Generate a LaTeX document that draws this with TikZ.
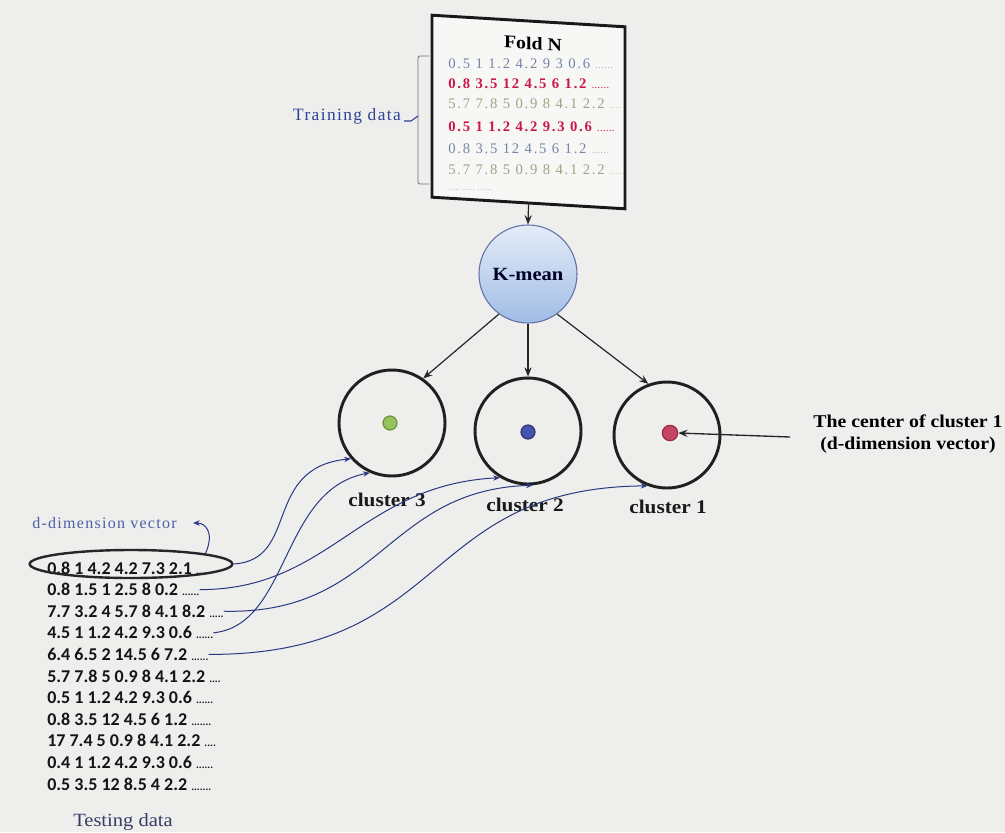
\documentclass[tikz,border=0pt]{standalone}
\usepackage{fontspec}
\setmainfont{Liberation Serif}
\newfontfamily\wideserif[FakeStretch=1.1]{Liberation Serif}
\newfontfamily\spacedserif[LetterSpace=8]{Liberation Serif}
\newfontfamily\rowserif[LetterSpace=12]{Liberation Serif}
\newfontfamily\calib{Carlito}
\usetikzlibrary{arrows.meta,shapes.geometric}

\definecolor{paper}{RGB}{238,239,236}
\definecolor{curveblue}{RGB}{40,56,130}
\definecolor{foldred}{RGB}{200,23,79}
\definecolor{foldblue}{RGB}{118,132,168}
\definecolor{foldolive}{RGB}{160,162,130}
\definecolor{kmtop}{RGB}{228,237,249}
\definecolor{kmbot}{RGB}{160,188,228}
\definecolor{kmedge}{RGB}{100,110,170}
\definecolor{labelblue}{RGB}{45,65,150}
\definecolor{testtitle}{RGB}{55,60,100}
\definecolor{dotgreen}{RGB}{150,195,95}
\definecolor{dotgreenedge}{RGB}{105,150,60}
\definecolor{dotblue}{RGB}{70,85,170}
\definecolor{dotblueedge}{RGB}{45,55,125}
\definecolor{dotred}{RGB}{195,70,100}
\definecolor{dotrededge}{RGB}{160,40,70}

\newcommand\fdots[1]{{\fontsize{6}{6}\selectfont #1}}
\newcommand\tdots[1]{{\fontsize{8}{8}\selectfont #1}}

\begin{document}
\begin{tikzpicture}[x=0.75pt,y=-0.75pt,
  every node/.style={inner sep=0pt},
  cluster/.style={circle, draw=black!88, line width=2.2pt, minimum size=79.5pt},
  centre/.style={circle, line width=0.9pt, minimum size=10.5pt},
  clabel/.style={font=\wideserif\bfseries\fontsize{14.5}{17}\selectfont, text=black!90},
  karrow/.style={-{Stealth[length=7pt,width=5.5pt,inset=2.5pt]}, line width=0.9pt, draw=black!85},
  vecarrow/.style={-{Stealth[length=5pt,width=4pt,inset=1.5pt]}, line width=0.75pt, draw=curveblue},
  testrow/.style={anchor=west, font=\calib\bfseries\fontsize{13.5}{16}\selectfont, text=black!92},
  foldrow/.style={anchor=west, font=\rowserif\fontsize{11}{13}\selectfont},
  foldbold/.style={foldrow, text=foldred, font=\rowserif\bfseries\fontsize{11}{13}\selectfont},
]
\useasboundingbox (0,0) rectangle (1005,832);
\fill[paper] (0,0) rectangle (1005,832);

% ---- Fold N: training data block (slightly sheared) ----
\begin{scope}[shift={(528.5,112)}, cm={1,-0.06,0,1,(0,0)}]
  \node[transform shape, draw=black!90, line width=2.2pt, fill=white!55!paper,
        minimum width=144.75pt, minimum height=136.5pt] (fold) at (0,0) {};
  \node[transform shape, font=\wideserif\bfseries\fontsize{13.5}{16}\selectfont] (foldtitle) at (4.5,-69) {Fold N};
  \node[foldrow, text=foldblue] (f1) at (-80.5,-43.5) {0.5 1 1.2 4.2 9 3 0.6 \fdots{......}};
  \node[foldbold] (f2) at (-80.5,-23.5) {0.8 3.5 12 4.5 6 1.2 \fdots{......}};
  \node[foldrow, text=foldolive] (f3) at (-80.5,-3.5) {5.7 7.8 5 0.9 8 4.1 2.2 \fdots{....}};
  \node[foldbold] (f4) at (-80.5,19.5) {0.5 1 1.2 4.2 9.3 0.6 \fdots{......}};
  \node[foldrow, text=foldblue] (f5) at (-80.5,41.5) {0.8 3.5 12 4.5 6 1.2 \fdots{......}};
  \node[foldrow, text=foldolive] (f6) at (-80.5,62.5) {5.7 7.8 5 0.9 8 4.1 2.2 \fdots{.....}};
  \node[foldrow, text=foldblue, font=\rowserif\fontsize{5}{5}\selectfont] (f7) at (-80.5,83) {..... ..... ......};
\end{scope}

% bracket and label of the training rows
\draw[black!55, line width=0.6pt, rounded corners=1.5pt] (429,56) -- (418,56) -- (418,184) -- (429,184);
\node[anchor=east, font=\spacedserif\fontsize{13}{15}\selectfont, text=labelblue] (trainlbl) at (401,116) {Training data};
\draw[labelblue, line width=0.8pt] (trainlbl.east) ++(3,5) -- ++(7,0) -- (418,116);

% ---- K-mean ----
\node[circle, draw=kmedge, line width=0.8pt, top color=kmtop, bottom color=kmbot,
      minimum size=73.5pt, text=black!85!blue, font=\wideserif\bfseries\fontsize{14}{16}\selectfont] (km) at (528,274) {K-mean};
\draw[karrow] (fold.south) -- (km.north);

% ---- clusters ----
\node[cluster] (c3) at (392,423) {};
\node[cluster] (c2) at (528,431) {};
\node[cluster] (c1) at (667,435) {};
\node[centre, fill=dotgreen, draw=dotgreenedge] (d3) at (390,423) {};
\node[centre, fill=dotblue, draw=dotblueedge] (d2) at (528,432) {};
\node[centre, fill=dotred, draw=dotrededge, minimum size=11.5pt] (d1) at (670,433) {};
\node[clabel] (l3) at (387,500) {cluster 3};
\node[clabel] (l2) at (525,505) {cluster 2};
\node[clabel] (l1) at (668,507) {cluster 1};

\draw[karrow] (km.234) -- (c3.55);
\draw[karrow] (km.270) -- (c2.90);
\draw[karrow] (km.306) -- (c1.110);

% ---- centre of cluster 1 ----
\node[font=\wideserif\bfseries\fontsize{13.5}{16.5}\selectfont, align=center] (centrelbl) at (908,434) {The center of cluster 1\\(d-dimension vector)};
\coordinate (centrefrom) at (790,437);
\draw[karrow, line width=1pt] (centrefrom) -- (d1.east);

% ---- testing data ----
\node[anchor=west, font=\spacedserif\fontsize{12}{14}\selectfont, text=labelblue!85] (dlabel) at (32,523) {d-dimension vector};
\coordinate (dtip) at (193,523);
\foreach \i/\nums/\dd in {
   1/{0.8 1 4.2 4.2 7.3 2.1}/{....},
   2/{0.8 1.5 1 2.5 8 0.2}/{......},
   3/{7.7 3.2 4 5.7 8 4.1 8.2}/{.....},
   4/{4.5 1 1.2 4.2 9.3 0.6}/{......},
   5/{6.4 6.5 2 14.5 6 7.2}/{......},
   6/{5.7 7.8 5 0.9 8 4.1 2.2}/{....},
   7/{0.5 1 1.2 4.2 9.3 0.6}/{......},
   8/{0.8 3.5 12 4.5 6 1.2}/{.......},
   9/{17 7.4 5 0.9 8 4.1 2.2}/{....},
   10/{0.4 1 1.2 4.2 9.3 0.6}/{......},
   11/{0.5 3.5 12 8.5 4 2.2}/{.......}}
{
  \node[testrow] (t\i) at (47,{568+(\i-1)*21.6}) {\nums\ \tdots{\dd}};
}
\node[ellipse, draw=black!85, line width=1.8pt, minimum width=152pt, minimum height=21pt] (sel) at (131,564) {};
\node[font=\wideserif\fontsize{14}{16}\selectfont, text=testtitle] (testlbl) at (123,822) {Testing data};

\draw[vecarrow] (sel.8) .. controls (215,532) and (205,523) .. (dtip);

% ---- assignment of test vectors to clusters ----
\draw[vecarrow] (sel.east) .. controls (300,560) and (262,468) .. (c3.221);
\draw[vecarrow] (t4.east) .. controls (290,625) and (280,490) .. (c3.246);
\draw[vecarrow] (t2.east) .. controls (330,590) and (360,485) .. (c2.239);
\draw[vecarrow] (t3.east) .. controls (380,615) and (385,490) .. (c2.275);
\draw[vecarrow] (t5.east) .. controls (450,655) and (420,488) .. (c1.249);
\end{tikzpicture}
\end{document}
